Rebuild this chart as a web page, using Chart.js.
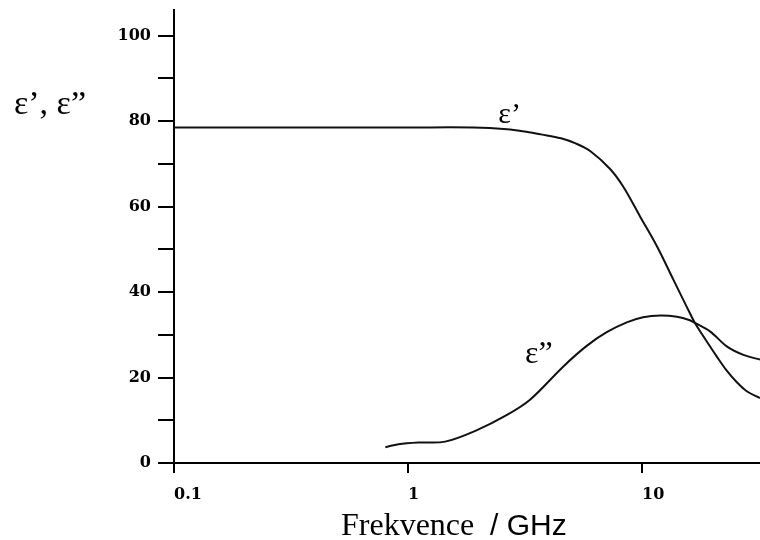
<!DOCTYPE html>
<html lang="cs">
<head>
<meta charset="utf-8">
<title>Permitivita vody</title>
<script src="https://cdn.jsdelivr.net/npm/chart.js@4.4.1/dist/chart.umd.min.js"></script>
<style>
    html, body { margin: 0; padding: 0; background: #fff; }
    #wrap { width: 760px; height: 540px; position: relative; }
</style>
</head>
<body>
<div id="wrap"><canvas id="chartPermitivita"></canvas></div>
<script>
// ε' (partie réelle) : fréquence en GHz / valeur
const freqReal = [0.1, 0.5, 1.0, 1.9, 2.65, 3.2, 3.7, 4.5, 5.2, 6.0, 7.3, 8.3, 9.8, 11.6, 13.6, 15.5, 16.8, 18.3, 20.8, 23.0, 25.4, 28.0, 31.9];
const epsReal = [78.5, 78.5, 78.5, 78.5, 78.1, 77.5, 76.9, 76.0, 74.8, 73.0, 68.8, 64.7, 57.7, 50.6, 42.9, 36.6, 32.8, 29.6, 25.0, 21.6, 18.9, 16.8, 15.2];

// ε'' (partie imaginaire)
const freqImag = [0.8, 0.91, 1.11, 1.44, 1.97, 2.6, 3.32, 4.61, 5.8, 7.06, 8.6, 10.1, 12.0, 14.1, 16.0, 16.8, 19.5, 23.0, 27.1, 31.9];
const epsImag = [3.7, 4.4, 4.8, 5.0, 7.7, 11.0, 14.8, 22.6, 27.4, 30.6, 32.9, 34.1, 34.5, 34.2, 33.4, 32.8, 30.8, 27.3, 25.3, 24.2];

const xTicks = [0.1, 1, 10];
const yTicks = [0, 10, 20, 30, 40, 50, 60, 70, 80, 90, 100];
const yLabels = [0, 20, 40, 60, 80, 100];

document.addEventListener("DOMContentLoaded", () => {
    if (typeof Chart === "undefined") return;

    function toPoints(xs, ys) {
        return xs.map((x, i) => ({ x: x, y: ys[i] }));
    }

    const tickFont = { family: '"DejaVu Serif"', size: 16, weight: "bold" };

    // textes dessinés à la main : titres et étiquettes des courbes
    const textPlugin = {
        id: "texty",
        afterDraw(chart) {
            const { ctx } = chart;
            const x = chart.scales.x;
            const y = chart.scales.y;
            ctx.save();
            ctx.fillStyle = "#000";
            ctx.textAlign = "left";
            ctx.textBaseline = "alphabetic";

            ctx.font = '34px "Liberation Serif"';
            ctx.fillText("ε’, ε”", 14, 114);

            ctx.font = '30px "Liberation Serif"';
            ctx.fillText("ε’", x.getPixelForValue(2.43), y.getPixelForValue(79.6));
            ctx.font = '32px "Liberation Serif"';
            ctx.fillText("ε”", x.getPixelForValue(3.16), y.getPixelForValue(23.5));

            ctx.font = '32px "Liberation Serif"';
            ctx.fillText("Frekvence", 341, 535);
            ctx.font = '30px "Liberation Sans"';
            ctx.fillText("/ GHz", 490, 535);
            ctx.restore();
        },
    };

    const el = document.getElementById("chartPermitivita");
    Chart.getChart(el)?.destroy();

    const lineStyle = {
        borderColor: "#111",
        borderWidth: 2,
        pointRadius: 0,
        fill: false,
        tension: 0.35,
    };

    new Chart(el, {
        type: "line",
        data: {
            datasets: [
                { label: "ε'", data: toPoints(freqReal, epsReal), ...lineStyle },
                { label: "ε''", data: toPoints(freqImag, epsImag), ...lineStyle },
            ],
        },
        options: {
            responsive: true,
            maintainAspectRatio: false,
            animation: false,
            layout: { padding: 0 },
            plugins: {
                legend: { display: false },
                tooltip: { enabled: false },
            },
            scales: {
                x: {
                    type: "logarithmic",
                    min: 0.1,
                    max: 31.9,
                    afterBuildTicks: (s) => { s.ticks = xTicks.map((v) => ({ value: v })); },
                    afterFit: (s) => {
                        s.height = 77;
                        s.paddingLeft = 0;
                        s.paddingRight = 0;
                    },
                    border: { color: "#000", width: 2 },
                    grid: { drawOnChartArea: false, color: "#000", lineWidth: 2, tickLength: 10 },
                    ticks: {
                        align: "start",
                        padding: 12,
                        color: "#000",
                        font: tickFont,
                        maxRotation: 0,
                        autoSkip: false,
                        callback: (v) => String(v),
                    },
                },
                y: {
                    min: 0,
                    max: 106,
                    afterBuildTicks: (s) => { s.ticks = yTicks.map((v) => ({ value: v })); },
                    afterFit: (s) => {
                        s.width = 174;
                        s.paddingTop = 10; // haut de l'axe à ~10 px
                        s.paddingBottom = 0;
                    },
                    border: { color: "#000", width: 2 },
                    grid: { drawOnChartArea: false, color: "#000", lineWidth: 2, tickLength: 16 },
                    ticks: {
                        padding: 7,
                        color: "#000",
                        font: tickFont,
                        autoSkip: false,
                        callback: (v) => (yLabels.includes(v) ? String(v) : ""),
                    },
                },
            },
        },
        plugins: [textPlugin],
    });
});
</script>
</body>
</html>
